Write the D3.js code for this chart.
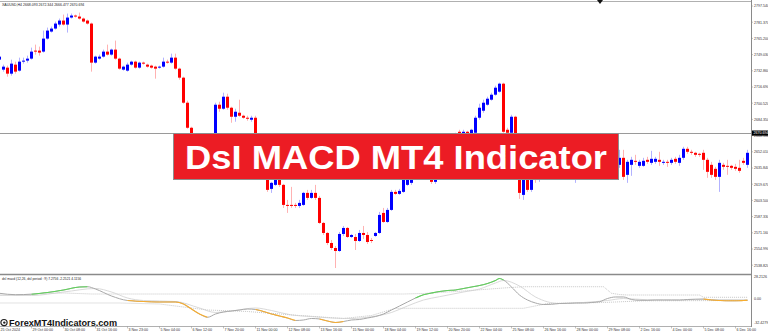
<!DOCTYPE html>
<html><head><meta charset="utf-8">
<script src="https://cdn.jsdelivr.net/npm/d3@7"></script>
<style>body{margin:0;background:#fff;overflow:hidden}svg{display:block}</style>
</head><body>
<svg id="c" width="768" height="332"></svg>
<script>
// ---------- DATA ----------
const openP = [2744,2734,2736,2730,2739,2733,2742,2743,2745,2753,
2753,2752,2765,2772,2775,2779,2783,2779,2786,2788,
2787,2785,2783,2780,2741,2745,2747,2752,2749,2754,
2745,2734,2733,2739,2742,2736,2741,2739,2738,2737,
2736,2737,2742,2741,2746,2735,2726,2701,2676,2664,
2649,2639,2646,2642,2654,2699,2695,2707,2696,2687,
2691,2688,2686,2684,2686,2654,2639,2644,2615,2619,
2625,2619,2599,2599,2599,2598,2599,2611,2606,2611,
2606,2581,2571,2561,2556,2553,2570,2576,2567,2567,
2563,2571,2569,2564,2568,2571,2591,2582,2594,2612,
2610,2612,2619,2621,2626,2634,2641,2634,2632,2622,
2629,2639,2654,2664,2661,2672,2670,2672,2669,2671,
2686,2693,2699,2704,2709,2712,2720,2674,2671,2687,
2632,2609,2627,2614,2627,2626,2636,2632,2641,2646,
2642,2638,2644,2639,2634,2639,2646,2642,2649,2644,
2652,2648,2644,2649,2642,2639,2646,2629,2639,2643,
2638,2638,2644,2641,2642,2644,2641,2642,2641,2645,
2641,2646,2655,2652,2651,2650,2651,2644,2639,2635,
2627,2639,2638,2638,2637,2636,2643,2639];
const highP = [2749,2739,2738,2744,2742,2746,2746,2748,2756,2759,
2757,2773,2776,2777,2782,2785,2789,2790,2790,2789,
2791,2786,2784,2781,2748,2749,2754,2759,2755,2763,
2746,2738,2741,2743,2743,2742,2742,2740,2739,2738,
2738,2746,2744,2750,2750,2736,2727,2703,2677,2666,
2652,2649,2654,2659,2701,2702,2711,2710,2697,2695,
2704,2689,2688,2688,2688,2656,2649,2646,2622,2626,
2627,2620,2604,2617,2601,2604,2612,2614,2614,2619,
2608,2582,2572,2564,2558,2572,2578,2577,2570,2570,
2574,2578,2572,2566,2572,2592,2596,2596,2614,2614,
2615,2627,2629,2630,2636,2644,2644,2636,2634,2632,
2642,2656,2666,2667,2671,2674,2674,2673,2675,2688,
2700,2704,2707,2711,2718,2721,2721,2676,2689,2688,
2634,2628,2629,2632,2639,2639,2641,2644,2649,2649,
2644,2647,2646,2641,2644,2649,2648,2652,2651,2656,
2654,2650,2652,2651,2649,2654,2654,2644,2647,2649,
2644,2646,2647,2653,2647,2652,2644,2644,2646,2647,
2649,2657,2657,2654,2652,2651,2654,2646,2642,2637,
2644,2641,2644,2639,2640,2644,2646,2654];
const lowP = [2742,2732,2727,2728,2730,2732,2740,2741,2744,2749,
2748,2751,2764,2771,2774,2777,2778,2771,2785,2786,
2784,2781,2779,2732,2740,2744,2746,2748,2748,2744,
2734,2733,2732,2738,2735,2735,2739,2736,2735,2725,
2735,2736,2740,2740,2734,2724,2700,2675,2659,2644,
2634,2632,2636,2638,2652,2692,2694,2694,2681,2682,
2687,2685,2683,2682,2652,2636,2632,2612,2611,2618,
2617,2596,2591,2596,2596,2596,2598,2604,2605,2604,
2580,2569,2559,2554,2536,2552,2568,2566,2566,2554,
2562,2565,2560,2561,2567,2570,2581,2581,2593,2609,
2609,2611,2618,2619,2624,2632,2629,2626,2620,2620,
2627,2637,2652,2658,2659,2668,2668,2667,2667,2670,
2684,2691,2698,2703,2708,2711,2671,2669,2669,2632,
2605,2604,2612,2612,2621,2622,2629,2630,2639,2640,
2636,2637,2636,2631,2621,2637,2640,2641,2642,2643,
2646,2642,2642,2641,2639,2636,2624,2621,2628,2639,
2636,2637,2640,2639,2640,2638,2639,2637,2639,2640,
2638,2644,2650,2649,2647,2647,2634,2626,2626,2624,
2612,2634,2629,2634,2633,2631,2639,2636];
const closeP = [2747,2737,2730,2740,2732,2742,2743,2745,2752,2752,
2751,2765,2773,2775,2780,2783,2779,2786,2788,2787,
2785,2782,2780,2741,2747,2747,2752,2749,2754,2745,
2735,2737,2739,2742,2736,2741,2740,2737,2736,2735,
2737,2742,2741,2746,2735,2726,2701,2676,2664,2649,
2639,2646,2642,2654,2699,2695,2707,2696,2687,2692,
2688,2686,2685,2686,2654,2639,2644,2614,2621,2624,
2619,2599,2598,2598,2598,2601,2611,2606,2611,2606,
2581,2571,2561,2556,2553,2570,2576,2567,2569,2563,
2571,2569,2562,2563,2571,2589,2582,2594,2612,2610,
2613,2625,2627,2627,2634,2641,2634,2629,2622,2629,
2639,2654,2664,2661,2668,2670,2672,2670,2674,2686,
2696,2701,2705,2709,2716,2720,2672,2671,2687,2634,
2611,2626,2614,2627,2624,2636,2632,2641,2646,2642,
2638,2644,2639,2634,2639,2646,2642,2649,2644,2652,
2648,2644,2649,2644,2646,2646,2627,2642,2644,2642,
2642,2643,2642,2645,2645,2642,2642,2641,2644,2642,
2646,2655,2652,2651,2649,2649,2644,2632,2629,2627,
2641,2637,2637,2636,2635,2633,2641,2651];

const priceTicks = [2797.540,2781.370,2765.200,2749.030,2732.860,2716.690,2700.520,2684.350,
  2668.180,2652.010,2635.840,2619.670,2603.500,2587.330,2571.160,2554.990,2538.820];
const bidPrice = 2670.694;
const headerText = "XAUUSD,H4  2668.093  2672.344  2666.477  2670.694";

const timeLabels = ["25 Oct 2024","29 Oct 00:00","30 Oct 08:00","31 Oct 16:00","3 Nov 23:00",
  "5 Nov 04:00","6 Nov 12:00","7 Nov 20:00","11 Nov 00:00","12 Nov 08:00","13 Nov 16:00",
  "15 Nov 00:00","18 Nov 04:00","19 Nov 12:00","20 Nov 20:00","22 Nov 04:00","25 Nov 08:00",
  "26 Nov 16:00","28 Nov 00:00","29 Nov 08:00","2 Dec 16:00","4 Dec 00:00","5 Dec 08:00","6 Dec 16:00"];
const timeLabelIdx = [0,8,16,24,32,40,48,56,64,72,80,88,96,104,112,120,128,136,144,152,160,168,176,184];

// indicator sub-window
const macdIdx = [0,4,8,12,16,20,22,24,28,32,36,40,44,46,48,50,52,54,56,58,60,62,64,66,68,70,72,74,76,78,
  80,82,84,86,88,90,92,94,96,98,100,102,104,106,108,110,112,114,116,118,120,122,124,125,126,128,130,132,134,136,
  138,140,142,144,146,148,150,152,154,156,158,160,162,164,166,168,170,172,174,176,178,180,182,184,186,187];
const macdVal = [6.72,4.88,5.54,7.78,11.07,15.03,15.42,12.39,3.16,-2.77,-4.09,-4.74,-4.74,-7.38,-13.97,-20.56,-24.91,-20.56,-17.92,-16.6,
  -15.29,-13.97,-14.63,-17.27,-20.56,-23.2,-25.83,-29.13,-28.47,-26.49,-27.15,-29.79,-31.76,-30.45,-28.47,-27.81,-25.83,-23.86,-20.56,-15.29,
  -10.02,-4.74,0.53,4.88,7.12,9.09,10.41,11.07,13.05,15.03,17,19.64,23.59,26.23,24.25,15.03,4.48,-2.11,-6.06,-8.04,
  -7.78,-6.72,-6.46,-6.06,-6.06,-5.4,-4.35,-0.13,1.85,1.85,-1.45,-2.5,-2.5,-2.11,-2.11,-2.11,-2.11,-1.45,-1.05,-0.79,
  -2.11,-2.77,-3.16,-3.16,-2.77,-2.5];
const greenRanges = [[8,22],[104,126]];
const orangeRanges = [[32,52],[64,74],[80,86],[176,187]];

const signalIdx = [0,8,16,24,28,32,36,44,50,54,58,64,68,73,78,83,88,93,98,102,106,110,116,120,124,126,130,134,140,146,152,156,162,170,178,187];
const signalVal = [4.48,3.82,8.44,13.05,8.44,0.53,-2.77,-4.09,-12.65,-18.58,-16.61,-12.65,-15.95,-21.88,-23.86,-25.83,-26.49,-24.12,-18.58,-10.02,
  -2.11,2.24,8.44,12.39,20.3,23.59,16.34,1.85,-6.72,-5.4,-2.77,-0.13,-1.85,-2.11,-1.45,-1.71];

const upIdx = [0,16,23,101,106,116,126,131,151,153,155,157,175,176,187];
const upVal = [3.82,7.12,5.8,5.8,6.46,9.75,13.71,15.42,15.42,6.72,5.14,4.48,4.48,1.45,1.45];
const dnIdx = [0,30,40,52,62,75,86,93,99,131,137,151,161,187];
const dnVal = [-6.06,-6.06,-7.38,-15.29,-17.27,-22.54,-26.49,-22.54,-13.05,-13.05,-6.72,-5.4,-3.16,-2.77];
const subTicks = [28.2126, 0, -32.4279];
const subTickLabels = ["28.2126","0.00","-32.4279"];
const subTitle = "dsl macd (12,26, dsl period : 9)  7.2756  -2.2521  4.1156";

// ---------- DRAW ----------
const svg = d3.select("#c");
const W = 768, H = 332, axisX = 751;
const n = openP.length;
const xs = d3.scaleLinear().domain([0, n - 1]).range([-1, 747]);
const ys = d3.scaleLinear().domain([2538.82, 2797.54]).range([265.2, 6]);
const ySub = d3.scaleLinear().domain([-32.4279, 28.2126]).range([323, 277]);
const font = "'Liberation Sans', Arial, sans-serif";

svg.append("rect").attr("width", W).attr("height", H).attr("fill", "#fff");

// frame lines
svg.append("line").attr("x1",0).attr("x2",axisX).attr("y1",1.5).attr("y2",1.5).attr("stroke","#b0b0b0");
svg.append("line").attr("x1",0).attr("x2",axisX).attr("y1",274.5).attr("y2",274.5).attr("stroke","#8a8a8a").attr("stroke-width",1.5);
svg.append("line").attr("x1",0).attr("x2",axisX).attr("y1",326.5).attr("y2",326.5).attr("stroke","#b0b0b0");
svg.append("line").attr("x1",axisX+0.5).attr("x2",axisX+0.5).attr("y1",0).attr("y2",327).attr("stroke","#8a8a8a");

// bid line
svg.append("line").attr("x1",0).attr("x2",axisX).attr("y1",Math.round(ys(bidPrice))+0.5).attr("y2",Math.round(ys(bidPrice))+0.5)
  .attr("stroke","#9a9a9a");

// candles
const cg = svg.append("g");
d3.range(n).forEach(i => {
  const o = openP[i], c = closeP[i];
  const up = c >= o;
  const col = up ? "#0000ff" : "#ff0000";
  const x = xs(i);
  cg.append("line").attr("x1", x + 0.5).attr("x2", x + 0.5)
    .attr("y1", ys(highP[i])).attr("y2", ys(lowP[i]))
    .attr("stroke", col).attr("stroke-opacity", 0.3);
  const y0 = ys(Math.max(o, c)), y1 = ys(Math.min(o, c));
  cg.append("rect").attr("x", x - 1).attr("width", 3)
    .attr("y", y0).attr("height", Math.max(1, y1 - y0)).attr("fill", col);
});

// price axis labels
svg.append("g").selectAll("text").data(priceTicks).join("text")
  .attr("x", axisX + 3).attr("y", d => ys(d) + 1.3)
  .attr("font-family", font).attr("font-size", 3.6).attr("fill", "#333")
  .text(d => d.toFixed(3));
svg.append("g").selectAll("line").data(priceTicks).join("line")
  .attr("x1", axisX).attr("x2", axisX + 2).attr("y1", d => ys(d)).attr("y2", d => ys(d)).attr("stroke", "#888").attr("stroke-width", 0.5);

// bid box
const by = ys(bidPrice);
svg.append("rect").attr("x", axisX + 1).attr("y", by - 2.6).attr("width", 17).attr("height", 5.2).attr("fill", "#000");
svg.append("text").attr("x", axisX + 2.5).attr("y", by + 1.3).attr("font-family", font).attr("font-size", 3.6)
  .attr("fill", "#fff").text(bidPrice.toFixed(3));

// header
svg.append("text").attr("x", 2).attr("y", 6).attr("font-family", font).attr("font-size", 3.5).attr("fill", "#222").text(headerText);
// shift marker
svg.append("path").attr("d", "M597,0 L603,0 L600,4 Z").attr("fill", "#111");

// sub-window
const lineGen = d3.line().x(d => xs(d.i) + 0.5).y(d => ySub(d.v)).curve(d3.curveMonotoneX);
const macd = macdIdx.map((i, k) => ({i, v: macdVal[k]}));
const sig = signalIdx.map((i, k) => ({i, v: signalVal[k]}));
const upL = upIdx.map((i, k) => ({i, v: upVal[k]}));
const dnL = dnIdx.map((i, k) => ({i, v: dnVal[k]}));
const linLine = d3.line().x(d => xs(d.i) + 0.5).y(d => ySub(d.v));

svg.append("path").attr("d", linLine(upL)).attr("fill", "none").attr("stroke", "#b8b8b8").attr("stroke-width", 0.8).attr("stroke-dasharray", "1,1");
svg.append("path").attr("d", linLine(dnL)).attr("fill", "none").attr("stroke", "#b8b8b8").attr("stroke-width", 0.8).attr("stroke-dasharray", "1,1");
svg.append("path").attr("d", lineGen(sig)).attr("fill", "none").attr("stroke", "#cfcfcf").attr("stroke-width", 0.8);
svg.append("path").attr("d", lineGen(macd)).attr("fill", "none").attr("stroke", "#a8a8a8").attr("stroke-width", 1);
greenRanges.forEach(([a, b]) => {
  svg.append("path").attr("d", lineGen(macd.filter(d => d.i >= a && d.i <= b)))
    .attr("fill", "none").attr("stroke", "#5fd35a").attr("stroke-width", 1.1);
});
orangeRanges.forEach(([a, b]) => {
  svg.append("path").attr("d", lineGen(macd.filter(d => d.i >= a && d.i <= b)))
    .attr("fill", "none").attr("stroke", "#f7ad2f").attr("stroke-width", 1.1);
});
svg.append("text").attr("x", 2).attr("y", 279.5).attr("font-family", font).attr("font-size", 3.3).attr("fill", "#222").text(subTitle);
svg.append("g").selectAll("text").data(subTicks).join("text")
  .attr("x", axisX + 3).attr("y", d => ySub(d) + 1.3)
  .attr("font-family", font).attr("font-size", 3.6).attr("fill", "#333")
  .text((d, k) => subTickLabels[k]);

// time axis
svg.append("g").selectAll("text").data(timeLabelIdx).join("text")
  .attr("x", d => xs(d) + 1.5).attr("y", 330.5)
  .attr("font-family", font).attr("font-size", 3.6).attr("fill", "#333")
  .text((d, k) => timeLabels[k]);
svg.append("g").selectAll("line").data(timeLabelIdx).join("line")
  .attr("x1", d => xs(d) + 0.5).attr("x2", d => xs(d) + 0.5).attr("y1", 326.5).attr("y2", 328.5)
  .attr("stroke", "#888").attr("stroke-width", 0.5);

// banner
svg.append("rect").attr("x", 173.5).attr("y", 133.5).attr("width", 445).attr("height", 46)
  .attr("fill", "#ec1c24").attr("stroke", "#8e8e8e").attr("stroke-width", 1);
svg.append("text").attr("x", 185).attr("y", 169.3)
  .attr("font-family", font).attr("font-weight", "bold").attr("font-size", 32.5)
  .attr("fill", "#fff").attr("textLength", 422).attr("lengthAdjust", "spacingAndGlyphs")
  .text("DsI MACD MT4 Indicator");

// watermark
const wm = svg.append("g");
wm.append("circle").attr("cx", 4).attr("cy", 322.6).attr("r", 3.1).attr("fill", "none").attr("stroke", "#222").attr("stroke-width", 1.2);
wm.append("circle").attr("cx", 4.3).attr("cy", 322.6).attr("r", 1.2).attr("fill", "#222");
wm.append("text").attr("x", 9).attr("y", 326.2)
  .attr("font-family", font).attr("font-weight", "bold").attr("font-size", 8.6)
  .attr("fill", "#111").attr("textLength", 108).attr("lengthAdjust", "spacingAndGlyphs")
  .text("ForexMT4Indicators.com");
</script>
</body></html>
